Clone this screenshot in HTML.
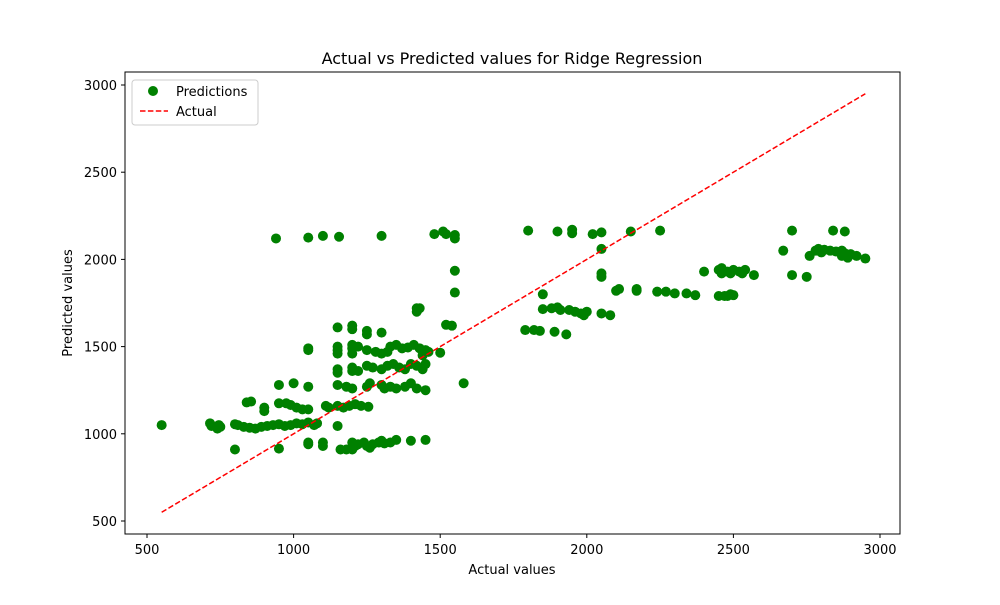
<!DOCTYPE html>
<html><head><meta charset="utf-8"><style>
body{margin:0;background:#fff;font-family:"Liberation Sans","DejaVu Sans",sans-serif}
svg text{font-family:"DejaVu Sans","Liberation Sans",sans-serif}
</style></head><body>
<svg id="chart" width="1000" height="600" xmlns="http://www.w3.org/2000/svg">
<rect width="1000" height="600" fill="#fff"/>
<text x="512" y="64" text-anchor="middle" font-size="16">Actual vs Predicted values for Ridge Regression</text>
<g id="plot"></g>
<rect x="125" y="72" width="775" height="462" fill="none" stroke="#000" stroke-width="1"/>
<g id="axes"></g>
<text x="512" y="574" text-anchor="middle" font-size="13">Actual values</text>
<text transform="translate(72,303) rotate(-90)" text-anchor="middle" font-size="13">Predicted values</text>
<g>
<rect x="132" y="80" width="126" height="45" rx="3" fill="#fff" fill-opacity="0.8" stroke="#ccc"/>
<circle cx="153" cy="91" r="5" fill="green"/>
<text x="176" y="96" font-size="13">Predictions</text>
<line x1="140" y1="111" x2="168" y2="111" stroke="red" stroke-width="1.5" stroke-dasharray="5.5,2.4"/>
<text x="176" y="116" font-size="13">Actual</text>
</g>
</svg>
<script>
const xTicks=[500,1000,1500,2000,2500,3000];
const yTicks=[500,1000,1500,2000,2500,3000];
const lineRange=[550,2950];
const actualVals=[550,715,720,740,745,750,800,800,810,830,840,855,850,870,890,910,930,950,970,990,1010,1030,1050,1070,1080,950,1000,1050,900,900,950,975,990,1010,1030,1050,950,1050,1050,1100,1100,1050,1050,940,1050,1100,1155,1300,1150,1200,1200,1150,1150,1150,1200,1200,1200,1220,1150,1150,1200,1200,1220,1150,1180,1200,1110,1120,1150,1170,1190,1210,1230,1255,1150,1160,1180,1200,1210,1200,1220,1240,1250,1260,1270,1290,1300,1310,1330,1350,1400,1450,1250,1250,1300,1250,1280,1300,1320,1330,1350,1370,1390,1410,1430,1450,1460,1440,1250,1270,1300,1320,1340,1360,1380,1400,1420,1440,1450,1250,1260,1300,1310,1330,1350,1380,1400,1420,1450,1420,1430,1420,1480,1510,1520,1550,1550,1550,1550,1520,1540,1500,1580,1800,1900,1950,1950,2020,2050,2150,2250,2050,2050,2050,1850,1850,1790,1820,1840,1890,1930,1880,1900,1910,1940,1960,1980,1990,2000,2050,2080,2100,2110,2170,2170,2240,2270,2300,2340,2370,2400,2450,2460,2460,2480,2500,2490,2520,2540,2530,2570,2450,2470,2480,2500,2490,2700,2840,2880,2670,2700,2750,2760,2780,2790,2800,2810,2830,2850,2870,2880,2870,2890,2900,2920,2950];
const predictedVals=[1050,1060,1045,1030,1050,1040,910,1055,1050,1040,1180,1185,1035,1030,1040,1045,1050,1055,1045,1050,1060,1055,1065,1050,1060,1280,1290,1270,1150,1130,1175,1175,1165,1150,1140,1140,915,940,950,930,950,1480,1490,2120,2125,2135,2130,2135,1610,1620,1600,1500,1480,1460,1510,1490,1460,1500,1370,1350,1380,1360,1360,1280,1270,1260,1160,1150,1160,1150,1160,1170,1160,1155,1045,910,910,910,930,950,940,950,930,920,940,950,960,945,950,965,960,965,1590,1570,1580,1480,1470,1460,1470,1500,1510,1490,1495,1510,1490,1480,1470,1450,1390,1380,1370,1390,1400,1380,1370,1400,1390,1370,1400,1270,1290,1280,1260,1270,1260,1270,1290,1260,1250,1720,1720,1700,2145,2160,2145,2140,2120,1935,1810,1625,1620,1465,1290,2165,2160,2170,2150,2145,2155,2160,2165,2060,1920,1900,1800,1715,1595,1595,1590,1585,1570,1720,1725,1710,1710,1700,1690,1680,1700,1690,1680,1820,1830,1830,1820,1815,1815,1805,1805,1795,1930,1940,1950,1920,1930,1940,1920,1930,1940,1920,1910,1790,1790,1790,1795,1800,2165,2165,2160,2050,1910,1900,2020,2050,2060,2040,2055,2050,2045,2050,2035,2020,2010,2030,2020,2005];
const NS='http://www.w3.org/2000/svg';
function xs(v){return 147+(v-500)*(880-147)/2500;}
function ys(v){return 521-(v-500)*(521-85)/2500;}
const plot=document.getElementById('plot');
for(let i=0;i<actualVals.length;i++){
  const c=document.createElementNS(NS,'circle');
  c.setAttribute('cx',xs(actualVals[i]));c.setAttribute('cy',ys(predictedVals[i]));
  c.setAttribute('r',5);c.setAttribute('fill','green');
  
  
  plot.appendChild(c);
}
const ln=document.createElementNS(NS,'line');
ln.setAttribute('x1',xs(lineRange[0]));ln.setAttribute('y1',ys(lineRange[0]));
ln.setAttribute('x2',xs(lineRange[1]));ln.setAttribute('y2',ys(lineRange[1]));
ln.setAttribute('stroke','red');ln.setAttribute('stroke-width','1.5');ln.setAttribute('stroke-dasharray','5.5,2.4');


plot.appendChild(ln);
const axes=document.getElementById('axes');
xTicks.forEach(t=>{
  const l=document.createElementNS(NS,'line');
  l.setAttribute('x1',xs(t));l.setAttribute('x2',xs(t));l.setAttribute('y1',534);l.setAttribute('y2',538);l.setAttribute('stroke','#000');
  
  
  axes.appendChild(l);
  const tx=document.createElementNS(NS,'text');
  tx.setAttribute('x',xs(t));tx.setAttribute('y',554);tx.setAttribute('text-anchor','middle');tx.setAttribute('font-size','13');
  tx.textContent=t;
  
  
  axes.appendChild(tx);
});
yTicks.forEach(t=>{
  const l=document.createElementNS(NS,'line');
  l.setAttribute('x1',121);l.setAttribute('x2',125);l.setAttribute('y1',ys(t));l.setAttribute('y2',ys(t));l.setAttribute('stroke','#000');
  
  
  axes.appendChild(l);
  const tx=document.createElementNS(NS,'text');
  tx.setAttribute('x',117);tx.setAttribute('y',ys(t)+5);tx.setAttribute('text-anchor','end');tx.setAttribute('font-size','13');
  tx.textContent=t;
  
  
  axes.appendChild(tx);
});
</script>
</body></html>
